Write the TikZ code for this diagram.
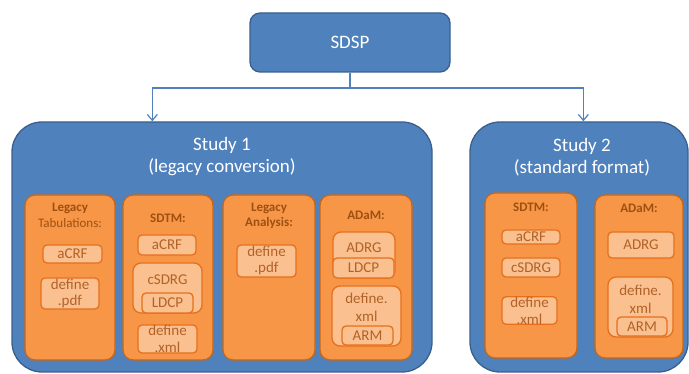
\documentclass[tikz,border=0pt]{standalone}
\usepackage{fontspec}
\setmainfont{Carlito}
\usetikzlibrary{arrows.meta}
\definecolor{bfill}{RGB}{79,129,189}
\definecolor{bdraw}{RGB}{58,95,140}
\definecolor{pfill}{RGB}{247,150,70}
\definecolor{pdraw}{RGB}{200,102,24}
\definecolor{ifill}{RGB}{250,192,144}
\definecolor{idraw}{RGB}{230,112,28}
\definecolor{htxt}{RGB}{158,80,18}
\definecolor{itxt}{RGB}{178,98,40}
\definecolor{cline}{RGB}{79,129,189}
\tikzset{
  bluebox/.style={draw=bdraw, fill=bfill, line width=1.3pt, rectangle, inner sep=0pt, text=white},
  panel/.style={draw=pdraw, fill=pfill, line width=1.3pt, rounded corners=10pt, rectangle, inner sep=0pt},
  ibox/.style={draw=idraw, fill=ifill, line width=1.3pt, rounded corners=4pt, rectangle, inner sep=0pt, text=itxt, align=center, font=\fontsize{15}{17}\selectfont},
  itext/.style={inner sep=0pt, text=itxt, align=center, font=\fontsize{15}{18}\selectfont},
  head/.style={inner sep=0pt, text=htxt, align=center, font=\fontsize{13}{15}\selectfont\bfseries},
  headreg/.style={inner sep=0pt, text=htxt, align=center, font=\fontsize{13}{15}\selectfont},
  conn/.style={draw=cline, line width=1.2pt},
  arr/.style={conn, -{Straight Barb[length=6pt,width=10pt,line width=1.2pt]}}
}
\begin{document}
\begin{tikzpicture}[x=1pt,y=-1pt]
\useasboundingbox (0,0) rectangle (689,374);
% top
\node[bluebox, rounded corners=10pt, minimum width=200pt, minimum height=59pt, font=\fontsize{19}{22}\selectfont] (sdsp) at (350,42.5) {SDSP};
% studies
\node[bluebox, rounded corners=30pt, minimum width=420pt, minimum height=250pt] (study1) at (222,247) {};
\node[bluebox, rounded corners=30pt, minimum width=218pt, minimum height=250pt] (study2) at (579,247) {};
\node[inner sep=0pt, text=white, align=center, font=\fontsize{19}{22}\selectfont] (t1) at (222,157) {Study 1\\(legacy conversion)};
\node[inner sep=0pt, text=white, align=center, font=\fontsize{19}{22}\selectfont] (t2) at (582,157) {Study 2\\(standard format)};
% connectors
\coordinate (j) at (350,88);
\path (study1.north west) ++(141,0) coordinate (s1in);
\path (study2.north west) ++(114,0) coordinate (s2in);
\draw[conn] (sdsp.south) -- (j);
\draw[arr] (j) -| (s1in);
\draw[arr] (j) -| (s2in);
% panels study 1
\node[panel, minimum width=90pt, minimum height=165pt] (p1) at (70,277.5) {};
\node[panel, minimum width=90pt, minimum height=165pt] (p2) at (168,277.5) {};
\node[panel, minimum width=92pt, minimum height=165pt] (p3) at (269,277.5) {};
\node[panel, minimum width=92pt, minimum height=165pt] (p4) at (366,277.5) {};
% panels study 2
\node[panel, minimum width=92pt, minimum height=165pt] (q1) at (531,275.5) {};
\node[panel, minimum width=88pt, minimum height=163pt] (q2) at (639,276.5) {};
% headers
\node[head] (h1a) at (70,208) {Legacy};
\node[headreg] (h1b) at (70,223) {Tabulations:};
\node[head] (h2) at (168,218) {SDTM:};
\node[head] (h3) at (269,215.5) {Legacy\\Analysis:};
\node[head] (h4) at (366,215) {ADaM:};
\node[head] (h5) at (531,207) {SDTM:};
\node[head] (h6) at (639,208) {ADaM:};
% panel 1
\node[ibox, minimum width=59pt, minimum height=18pt] (p1a) at (72.5,254) {aCRF};
\node[ibox, minimum width=58pt, minimum height=31pt, font=\fontsize{15}{16}\selectfont] (p1b) at (70,293.5) {define\\.pdf};
% panel 2
\node[ibox, minimum width=58pt, minimum height=20pt] (p2a) at (167,245) {aCRF};
\node[ibox, rounded corners=8pt, minimum width=69pt, minimum height=50pt] (p2b) at (167.5,288) {};
\node[itext] (p2bt) at (167.5,280) {cSDRG};
\node[ibox, minimum width=51pt, minimum height=20pt] (p2c) at (167.5,303) {LDCP};
\node[ibox, minimum width=59pt, minimum height=28pt] (p2d) at (167.5,339) {define\\.xml};
% panel 3
\node[ibox, minimum width=59pt, minimum height=32pt, font=\fontsize{15}{16}\selectfont] (p3a) at (266.5,261) {define\\.pdf};
% panel 4
\node[ibox, rounded corners=8pt, minimum width=62pt, minimum height=46pt] (p4a) at (364,255) {};
\node[itext] (p4at) at (364,248) {ADRG};
\node[ibox, minimum width=61pt, minimum height=20pt] (p4b) at (363.5,268) {LDCP};
\node[ibox, rounded corners=8pt, minimum width=69pt, minimum height=60pt] (p4c) at (366.5,316) {};
\node[itext] (p4ct) at (366.5,307.5) {define.\\xml};
\node[ibox, minimum width=51pt, minimum height=19pt] (p4d) at (367.5,335.5) {ARM};
% study 2 SDTM
\node[ibox, minimum width=58pt, minimum height=14pt] (q1a) at (531,237) {aCRF};
\node[ibox, minimum width=58pt, minimum height=19pt] (q1b) at (531,267.5) {cSDRG};
\node[ibox, minimum width=55pt, minimum height=27pt] (q1c) at (529.5,310.5) {define\\.xml};
% study 2 ADaM
\node[ibox, minimum width=66pt, minimum height=26pt] (q2a) at (641,245) {ADRG};
\node[ibox, rounded corners=8pt, minimum width=65pt, minimum height=60pt] (q2b) at (640.5,307) {};
\node[itext] (q2bt) at (640.5,299) {define.\\xml};
\node[ibox, minimum width=50pt, minimum height=19pt] (q2c) at (642,326.5) {ARM};
\end{tikzpicture}
\end{document}
